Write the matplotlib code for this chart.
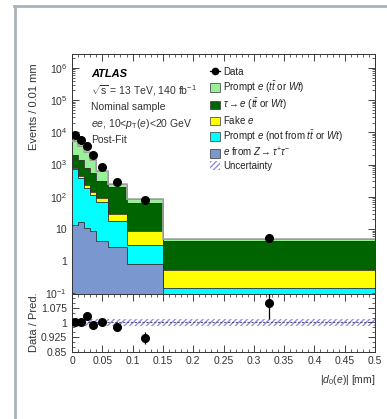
import numpy as np
import matplotlib
matplotlib.use("Agg")
import matplotlib.pyplot as plt
from matplotlib.patches import Patch
from matplotlib.lines import Line2D
from matplotlib.ticker import FixedLocator, MultipleLocator, FuncFormatter, LogLocator, NullFormatter

plt.rcParams['font.family'] = ['Liberation Sans', 'DejaVu Sans']
plt.rcParams['mathtext.fontset'] = 'custom'
plt.rcParams['mathtext.rm'] = 'Liberation Sans'
plt.rcParams['mathtext.it'] = 'Liberation Sans:italic'
plt.rcParams['mathtext.bf'] = 'Liberation Sans:bold'
plt.rcParams['hatch.linewidth'] = 1.0

# bins in |d0(e)| [mm]
bin_edges = [0.0, 0.01, 0.02, 0.03, 0.04, 0.06, 0.09, 0.15, 0.5]

# post-fit yields, events / 0.01 mm
z_tautau = [13.5, 16.0, 11.0, 8.5, 4.2, 2.7, 0.8, 0.05]
prompt_other = [700, 380, 180, 105, 65, 15.0, 2.5, 0.10]
fake_e = [60, 50, 35, 30, 25, 12.4, 5.3, 0.38]
tau_to_e = [1200, 900, 550, 400, 220, 175, 57, 3.7]
prompt_ttbar = [3300, 2400, 1600, 800, 320, 45, 17, 0.6]

data_x = [0.005, 0.015, 0.025, 0.035, 0.05, 0.075, 0.12, 0.325]
data_y = [8250, 6000, 3750, 1970, 835, 295, 80, 5.4]

ratio_y = [1.003, 1.003, 1.033, 0.988, 1.0, 0.978, 0.92, 1.103]
ratio_err = [0.005, 0.005, 0.007, 0.01, 0.018, 0.022, 0.03, 0.085]
ratio_unc = 0.017

components = [
    (z_tautau, '#7b97d0', r'$e$ from $Z\rightarrow\tau^{+}\tau^{-}$'),
    (prompt_other, '#00ffff', r'Prompt $e$ (not from $t\bar{t}$ or $Wt$)'),
    (fake_e, '#ffff00', r'Fake $e$'),
    (tau_to_e, '#006400', r'$\tau\rightarrow e$ ($t\bar{t}$ or $Wt$)'),
    (prompt_ttbar, '#98f098', r'Prompt $e$ ($t\bar{t}$ or $Wt$)'),
]
unc_color = '#8f8fec'

W, H = 387, 419
fig = plt.figure(figsize=(W / 100, H / 100), dpi=100)

# outer frame
fig.add_artist(Line2D([14 / W, 1], [1 - 6 / H, 1 - 6 / H], color='#a9b3bd', lw=2))
fig.add_artist(Line2D([15 / W, 15 / W], [0, 1 - 6 / H], color='#a9b3bd', lw=2))

x0, x1 = 72 / W, 375 / W
ax = fig.add_axes([x0, 1 - 293.5 / H, x1 - x0, (293.5 - 54) / H])
rax = fig.add_axes([x0, 1 - 351.5 / H, x1 - x0, (351.5 - 293.5) / H], sharex=ax)

edges = np.array(bin_edges)
bottom = np.zeros(len(z_tautau))
for vals, col, lab in components:
    top = bottom + np.array(vals)
    ax.stairs(top, edges, baseline=np.maximum(bottom, 1e-3), fill=True, color=col, zorder=2)
    ax.stairs(top, edges, baseline=None, color='#333333', lw=0.6, zorder=3)
    bottom = top
ax.stairs(bottom, edges, baseline=None, color='#aaaaaa', lw=1.2, zorder=3)

ax.plot(data_x, data_y, 'o', color='black', ms=5.5, zorder=5)

ax.set_yscale('log')
ax.set_ylim(0.1, 2.7e6)
ax.set_xlim(0, 0.5)


def log_fmt(v, pos):
    e = int(round(np.log10(v)))
    if e == 0:
        return '1'
    if e == 1:
        return '10'
    return r'$10^{%d}$' % e


ax.yaxis.set_major_locator(FixedLocator([10.0 ** k for k in range(-1, 7)]))
ax.yaxis.set_major_formatter(FuncFormatter(log_fmt))
ax.yaxis.set_minor_locator(LogLocator(base=10, subs=np.arange(2, 10), numticks=20))
ax.yaxis.set_minor_formatter(NullFormatter())
ax.set_ylabel('Events / 0.01 mm', fontsize=8, color='#333333')
ax.yaxis.set_label_coords(-0.11, 0.78)
plt.setp(ax.get_xticklabels(), visible=False)

# ratio panel
rax.fill_between(edges, 1 - ratio_unc, 1 + ratio_unc, facecolor='none',
                 edgecolor=unc_color, hatch='//////', lw=0, zorder=1)
rax.axhline(1.0, color='#555577', lw=0.8, ls=(0, (2, 1.5)), zorder=2)
rax.errorbar(data_x, ratio_y, yerr=ratio_err, fmt='o', color='black', ms=5.5,
             elinewidth=0.9, capsize=0, zorder=5)
rax.set_ylim(0.85, 1.15)
rax.yaxis.set_major_locator(FixedLocator([0.85, 0.925, 1.0, 1.075]))
rax.yaxis.set_major_formatter(FuncFormatter(lambda v, p: '%g' % v))
rax.yaxis.set_minor_locator(MultipleLocator(0.025))
rax.xaxis.set_major_locator(MultipleLocator(0.05))
rax.xaxis.set_major_formatter(FuncFormatter(lambda v, p: '%g' % round(v, 3)))
rax.xaxis.set_minor_locator(MultipleLocator(0.01))
ax.xaxis.set_minor_locator(MultipleLocator(0.01))
rax.set_ylabel('Data / Pred.', fontsize=8, color='#333333')
rax.yaxis.set_label_coords(-0.11, 0.5)
rax.set_xlabel(r'$|d_{0}(e)|$ [mm]', fontsize=7.5, color='#333333', loc='right', labelpad=5)

for a in (ax, rax):
    a.tick_params(which='both', direction='in', top=True, right=True, labelsize=7.5,
                  colors='#222222', labelcolor='#333333')
    a.tick_params(which='major', length=5, width=0.6)
    a.tick_params(which='minor', length=2.5, width=0.5)
    for s in a.spines.values():
        s.set_linewidth(0.7)
        s.set_color('#333333')

# labels
ax.text(0.063, 0.917, 'ATLAS', transform=ax.transAxes, fontsize=8, fontweight='bold',
        fontstyle='italic', va='center', ha='left')
info = [r'$\sqrt{\mathrm{s}}$ = 13 TeV, 140 fb$^{-1}$', 'Nominal sample',
        r'$ee$, 10<$p_{\mathrm{T}}$($e$)<20 GeV', 'Post-Fit']
for i, t in enumerate(info):
    ax.text(0.063, 0.846 - 0.069 * i, t, transform=ax.transAxes, fontsize=7.5,
            va='center', ha='left', color='#333333')

handles = [Line2D([], [], marker='o', color='black', ms=4.5, lw=0.9)]
labels = ['Data']
for vals, col, lab in components[::-1]:
    handles.append(Patch(facecolor=col, edgecolor='#333333', lw=0.5))
    labels.append(lab)
handles.append(Patch(facecolor='none', edgecolor=unc_color, hatch='//////', lw=0))
labels.append('Uncertainty')
ax.legend(handles, labels, loc='upper left', bbox_to_anchor=(0.435, 0.97), frameon=False,
          fontsize=7, handlelength=1.1, handleheight=1.0, handletextpad=0.3,
          labelspacing=0.18, borderpad=0.1, labelcolor='#222222')

fig.savefig('out.png', dpi=100)
